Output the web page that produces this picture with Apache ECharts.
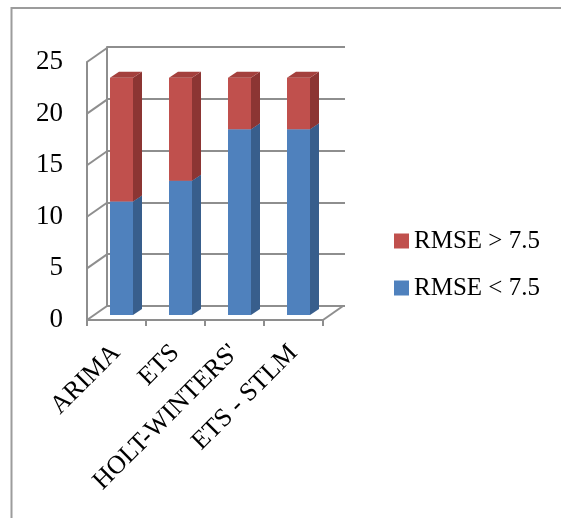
<!DOCTYPE html>
<html>
<head>
<meta charset="utf-8">
<script src="https://cdn.jsdelivr.net/npm/echarts@6/dist/echarts.min.js"></script>
<style>
  html, body { margin: 0; padding: 0; background: #fff; }
  #chart { width: 561px; height: 518px; }
</style>
</head>
<body>
<div id="chart"></div>
<script>
const categories = ['ARIMA', 'ETS', "HOLT-WINTERS'", 'ETS - STLM'];
const rmseBelow = [11, 13, 18, 18];
const rmseAbove = [12, 10, 5, 5];
const yTicks = [0, 5, 10, 15, 20, 25];

const FONT = 'Liberation Serif';
const GRID_LINE = '#8e8e8e';

// one 3D column piece: front face, side face, top face
function bar3d(front, side, top) {
  return function (params, api) {
    const i = api.value(0);
    const b = api.coord([i, api.value(1)]);
    const t = api.coord([i, api.value(2)]);
    const w = 23, dx = 9, dy = 6;
    const x0 = t[0] - w / 2, x1 = t[0] + w / 2;
    return {
      type: 'group',
      children: [
        { type: 'rect', shape: { x: x0, y: t[1], width: w, height: b[1] - t[1] }, style: { fill: front } },
        { type: 'polygon', shape: { points: [[x1, t[1]], [x1 + dx, t[1] - dy], [x1 + dx, b[1] - dy], [x1, b[1]]] }, style: { fill: side } },
        { type: 'polygon', shape: { points: [[x0, t[1]], [x0 + dx, t[1] - dy], [x1 + dx, t[1] - dy], [x1, t[1]]] }, style: { fill: top } }
      ]
    };
  };
}

// diagonal lines joining the front axis to the back wall
function wallEdges(params, api) {
  const v = api.value(1);
  const p = api.coord([0, v]);
  const band = api.size([1, 0])[0];
  const xl = p[0] - band / 2;
  const style = { stroke: GRID_LINE, lineWidth: 2 };
  const children = [
    { type: 'line', shape: { x1: xl, y1: p[1], x2: xl + 20, y2: p[1] - 14 }, style: style }
  ];
  if (v === 0) {
    const xr = xl + band * categories.length;
    children.push({ type: 'line', shape: { x1: xr, y1: p[1], x2: xr + 20, y2: p[1] - 14 }, style: style });
  }
  return { type: 'group', children: children };
}

const chart = echarts.init(document.getElementById('chart'));

chart.setOption({
  animation: false,
  backgroundColor: '#fff',
  graphic: [{
    type: 'polyline',
    shape: { points: [[11.5, 518], [11.5, 8], [561, 8]] },
    style: { stroke: '#9c9c9c', lineWidth: 2, fill: null },
    z: 100
  }],
  legend: {
    orient: 'vertical',
    left: 394,
    top: 227,
    padding: 0,
    itemWidth: 15,
    itemHeight: 15,
    itemGap: 19,
    icon: 'rect',
    data: ['RMSE > 7.5', 'RMSE < 7.5'],
    textStyle: { fontFamily: FONT, fontSize: 25, color: '#000', lineHeight: 28 }
  },
  grid: [
    { left: 92, top: 57, width: 236, height: 258 },   // bars
    { left: 87, top: 62, width: 236, height: 258 },   // front axes
    { left: 107, top: 47, width: 238, height: 259 }   // back wall
  ],
  xAxis: [
    { gridIndex: 0, type: 'category', data: categories, show: false },
    {
      gridIndex: 1, type: 'category', data: categories,
      axisLine: { lineStyle: { color: GRID_LINE, width: 2 } },
      axisTick: { show: true, interval: 0, length: 6, lineStyle: { color: GRID_LINE, width: 2 } },
      axisLabel: { interval: 0, rotate: 45, margin: 29, fontFamily: FONT, fontSize: 26, color: '#000' }
    },
    { gridIndex: 2, type: 'category', data: categories, show: false }
  ],
  yAxis: [
    { gridIndex: 0, type: 'value', min: 0, max: 25, interval: 5, show: false },
    {
      gridIndex: 1, type: 'value', min: 0, max: 25, interval: 5,
      axisLine: { show: true, lineStyle: { color: GRID_LINE, width: 2 } },
      axisTick: { show: false },
      splitLine: { show: false },
      axisLabel: { margin: 24, fontFamily: FONT, fontSize: 27, color: '#000' }
    },
    {
      gridIndex: 2, type: 'value', min: 0, max: 25, interval: 5,
      axisLine: { show: true, lineStyle: { color: GRID_LINE, width: 2 } },
      axisTick: { show: false },
      axisLabel: { show: false },
      splitLine: { show: true, lineStyle: { color: GRID_LINE, width: 2 } }
    }
  ],
  series: [
    {
      type: 'custom',
      silent: true,
      xAxisIndex: 1,
      yAxisIndex: 1,
      renderItem: wallEdges,
      encode: { x: 0, y: 1 },
      data: yTicks.map(v => [0, v]),
      z: 1
    },
    {
      name: 'RMSE < 7.5',
      type: 'custom',
      xAxisIndex: 0,
      yAxisIndex: 0,
      itemStyle: { color: '#4F81BD' },
      renderItem: bar3d('#4F81BD', '#385E8C', '#4573AA'),
      encode: { x: 0, y: [1, 2] },
      data: rmseBelow.map((v, i) => [i, 0, v]),
      z: 5
    },
    {
      name: 'RMSE > 7.5',
      type: 'custom',
      xAxisIndex: 0,
      yAxisIndex: 0,
      itemStyle: { color: '#C0504D' },
      renderItem: bar3d('#C0504D', '#8C3533', '#A4403D'),
      encode: { x: 0, y: [1, 2] },
      data: rmseAbove.map((v, i) => [i, rmseBelow[i], rmseBelow[i] + v]),
      z: 6
    }
  ]
});
</script>
</body>
</html>
